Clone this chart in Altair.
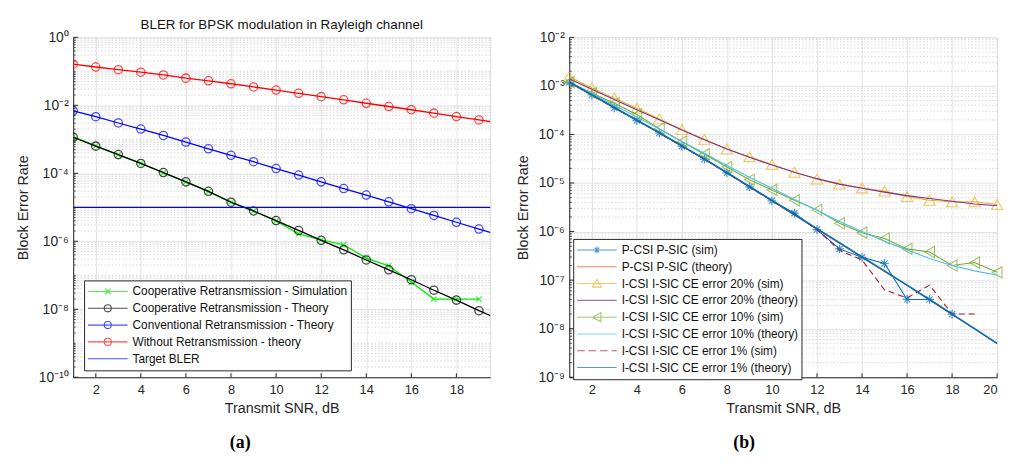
import altair as alt
import pandas as pd

# ---------------- Panel (a) data ----------------
snr_a = list(range(1, 21))
no_retx_theory = [0.162, 0.134, 0.112, 0.0942, 0.0785, 0.0631, 0.0525, 0.0431, 0.0347, 0.0282,
                  0.0225, 0.0180, 0.0145, 0.0115, 0.00923, 0.00741, 0.00589, 0.00468, 0.00372, 0.00295]
conv_retx_theory = [6.92e-3, 4.62e-3, 3.02e-3, 2.0e-3, 1.30e-3, 8.3e-4, 5.25e-4, 3.39e-4, 2.19e-4, 1.38e-4,
                    8.9e-5, 5.6e-5, 3.55e-5, 2.29e-5, 1.45e-5, 9.1e-6, 5.75e-6, 3.63e-6, 2.29e-6, 1.45e-6]
coop_retx_theory = [1.15e-3, 6.3e-4, 3.55e-4, 1.95e-4, 1.05e-4, 5.6e-5, 2.95e-5, 1.41e-5, 7.8e-6, 4.07e-6,
                    2.09e-6, 1.07e-6, 5.6e-7, 2.82e-7, 1.45e-7, 7.4e-8, 3.63e-8, 1.86e-8, 9.1e-9, 4.7e-9]
snr_a_sim = list(range(1, 20))
coop_retx_sim = [1.2e-3, 6.4e-4, 3.5e-4, 1.95e-4, 1.04e-4, 5.6e-5, 2.9e-5, 1.42e-5, 7.7e-6, 4.0e-6,
                 1.66e-6, 1.1e-6, 7.9e-7, 3.2e-7, 1.9e-7, 6.3e-8, 2.0e-8, 2.0e-8, 2.0e-8]
target_bler = [1e-5]

names_a = ["Cooperative Retransmission - Simulation", "Cooperative Retransmission - Theory",
           "Conventional Retransmission - Theory", "Without Retransmission - theory", "Target BLER"]
colors_a = ["#00ee00", "#000000", "#0000ff", "#ff0000", "#0000ff"]

# ---------------- Panel (b) data ----------------
snr_b = list(range(1, 21))
snr_b_pcsi_sim = list(range(1, 19))
pcsi_sim = [1.17e-3, 6.5e-4, 3.55e-4, 1.95e-4, 1.07e-4, 5.75e-5, 3.1e-5, 1.62e-5, 8.3e-6, 4.3e-6,
            2.4e-6, 1.1e-6, 4.4e-7, 2.95e-7, 2.2e-7, 4e-8, 4e-8, 2e-8]
pcsi_theory = [1.17e-3, 6.5e-4, 3.55e-4, 1.95e-4, 1.07e-4, 5.75e-5, 3.1e-5, 1.62e-5, 8.3e-6, 4.3e-6,
               2.2e-6, 1.12e-6, 5.75e-7, 2.95e-7, 1.51e-7, 7.8e-8, 3.9e-8, 1.95e-8, 9.8e-9, 4.9e-9]
ce20_sim = [1.55e-3, 9.1e-4, 5.6e-4, 3.47e-4, 2.09e-4, 1.26e-4, 7.9e-5, 5.0e-5, 3.47e-5, 2.4e-5,
            1.66e-5, 1.2e-5, 9.5e-6, 7.9e-6, 6.8e-6, 5.25e-6, 4.4e-6, 4.1e-6, 4.1e-6, 3.6e-6]
ce20_theory = [1.41e-3, 8.5e-4, 5.25e-4, 3.24e-4, 2.0e-4, 1.23e-4, 7.8e-5, 5.0e-5, 3.4e-5, 2.34e-5,
               1.66e-5, 1.23e-5, 9.5e-6, 7.8e-6, 6.5e-6, 5.5e-6, 4.8e-6, 4.2e-6, 3.7e-6, 3.4e-6]
ce10_sim = [1.2e-3, 7.1e-4, 4.4e-4, 2.57e-4, 1.32e-4, 7.1e-5, 3.9e-5, 2.14e-5, 1.17e-5, 7.2e-6,
            4.4e-6, 2.8e-6, 1.48e-6, 9.5e-7, 7.2e-7, 4.4e-7, 3.8e-7, 2.0e-7, 2.3e-7, 1.45e-7]
ce10_theory = [1.2e-3, 6.9e-4, 4.0e-4, 2.3e-4, 1.29e-4, 7.2e-5, 4.1e-5, 2.3e-5, 1.32e-5, 7.8e-6,
               4.6e-6, 2.75e-6, 1.62e-6, 1.0e-6, 6.3e-7, 4.2e-7, 2.8e-7, 2.0e-7, 1.55e-7, 1.26e-7]
snr_b_ce1_sim = list(range(1, 20))
ce1_sim = [1.2e-3, 6.5e-4, 3.5e-4, 1.95e-4, 1.07e-4, 5.7e-5, 3.1e-5, 1.6e-5, 8.3e-6, 4.3e-6,
           2.3e-6, 1.1e-6, 4.1e-7, 2.6e-7, 6.3e-8, 4.3e-8, 7.9e-8, 2.0e-8, 2.0e-8]
ce1_theory = [1.2e-3, 6.6e-4, 3.6e-4, 1.98e-4, 1.09e-4, 5.85e-5, 3.15e-5, 1.65e-5, 8.5e-6, 4.4e-6,
              2.25e-6, 1.15e-6, 5.9e-7, 3.0e-7, 1.55e-7, 7.9e-8, 4.0e-8, 2.0e-8, 1.0e-8, 5.0e-9]

names_b = ["P-CSI P-SIC (sim)", "P-CSI P-SIC (theory)", "I-CSI I-SIC CE error 20% (sim)",
           "I-CSI I-SIC CE error 20% (theory)", "I-CSI I-SIC CE error 10% (sim)",
           "I-CSI I-SIC CE error 10% (theory)", "I-CSI I-SIC CE error 1% (sim)",
           "I-CSI I-SIC CE error 1% (theory)"]
colors_b = ["#0072BD", "#D95319", "#EDB120", "#7E2F8E", "#77AC30", "#4DBEEE", "#A2142F", "#0072BD"]

x_ticks_a = [2, 4, 6, 8, 10, 12, 14, 16, 18]
x_ticks_b = [2, 4, 6, 8, 10, 12, 14, 16, 18, 20]
y_ticks_a = [1e-10, 1e-8, 1e-6, 1e-4, 1e-2, 1e0]
y_ticks_b = [1e-9, 1e-8, 1e-7, 1e-6, 1e-5, 1e-4, 1e-3, 1e-2]

# ---------------- tables ----------------
def series(name, xs, ys):
    return pd.DataFrame({"snr": xs, "bler": ys, "series": name})

df_a = pd.concat([
    series(names_a[0], snr_a_sim, coop_retx_sim),
    series(names_a[1], snr_a, coop_retx_theory),
    series(names_a[2], snr_a, conv_retx_theory),
    series(names_a[3], snr_a, no_retx_theory),
])
df_b = pd.concat([
    series(names_b[0], snr_b_pcsi_sim, pcsi_sim),
    series(names_b[1], snr_b, pcsi_theory),
    series(names_b[2], snr_b, ce20_sim),
    series(names_b[3], snr_b, ce20_theory),
    series(names_b[4], snr_b, ce10_sim),
    series(names_b[5], snr_b, ce10_theory),
    series(names_b[6], snr_b_ce1_sim, ce1_sim),
    series(names_b[7], snr_b, ce1_theory),
])

SUP = {"0": "\u2070", "1": "\u00b9", "2": "\u00b2", "3": "\u00b3", "4": "\u2074", "5": "\u2075",
       "6": "\u2076", "7": "\u2077", "8": "\u2078", "9": "\u2079", "-": "\u207b"}


def sup_label_expr(exps):
    expr = "''"
    for e in exps:
        lab = "10" + "".join(SUP[c] for c in str(e))
        expr = f"round(log(datum.value)/LN10) == {e} ? '{lab}' : ({expr})"
    return expr


FONT = "Liberation Sans"
AX = "#262626"
GRID = "#e3e3e3"
MINOR = "#d6d6d6"

# legend symbol paths (line + marker)
P_LINE = "M-1,0L1,0"
P_CIRCLE = "M-1,0L1,0M-0.18,0A0.18,0.18 0 1,0 0.18,0A0.18,0.18 0 1,0 -0.18,0"
P_X = "M-1,0L1,0M-0.14,-0.14L0.14,0.14M-0.14,0.14L0.14,-0.14"
P_TRI_UP = "M-1,0L1,0M0,-0.22L0.23,0.18L-0.23,0.18Z"
P_TRI_LEFT = "M-1,0L1,0M-0.22,0L0.2,-0.23L0.2,0.23Z"
P_STAR = "M-1,0L1,0M0,-0.17L0,0.17M-0.12,-0.12L0.12,0.12M-0.12,0.12L0.12,-0.12"
P_DASH = "M-1,0L-0.62,0M-0.42,0L-0.04,0M0.16,0L0.54,0M0.74,0L1,0"

STAR = "M-1,0L1,0M0,-1L0,1M-0.7,-0.7L0.7,0.7M-0.7,0.7L0.7,-0.7"
XMARK = "M-1,-1L1,1M-1,1L1,-1"


def legend(xy):
    return alt.Legend(title=None, orient="none", legendX=xy[0], legendY=xy[1], symbolSize=1600,
                      clipHeight=16.4, rowPadding=0, padding=3, labelFont=FONT, labelFontSize=12,
                      labelColor="#111", labelOffset=4, strokeColor=AX, fillColor="white",
                      symbolStrokeWidth=1.1, labelLimit=400, symbolFillColor="transparent")


def panel(df, names, colors, shapes, W, H, xdom, xticks, ydom, yticks, exps, minor_vals,
          legend_xy, layers_fn, title=None, caption=None, cap_x=0):
    x = alt.X("snr:Q", scale=alt.Scale(domain=xdom, nice=False, zero=False),
              axis=alt.Axis(values=xticks, title="Transmit SNR, dB", grid=True, ticks=False,
                            labelFontSize=13, titleFontSize=14.5, labelPadding=6, titlePadding=6,
                            labelFont=FONT, titleFont=FONT, labelColor=AX, titleColor=AX,
                            domainColor=AX, gridColor=GRID, titleFontWeight="normal"))
    y = alt.Y("bler:Q", scale=alt.Scale(type="log", domain=ydom, nice=False),
              axis=alt.Axis(values=yticks, title="Block Error Rate", grid=True, ticks=False,
                            labelExpr=sup_label_expr(exps), labelFontSize=14, titleFontSize=14.5,
                            labelPadding=5, titlePadding=8, labelFont=FONT, titleFont=FONT,
                            labelColor=AX, titleColor=AX, domainColor=AX, gridColor=GRID,
                            titleFontWeight="normal"))
    base = alt.Chart(df)

    minor_df = pd.DataFrame({"bler": minor_vals})
    minor = alt.Chart(minor_df).mark_rule(color=MINOR, strokeDash=[1.5, 2], strokeWidth=1).encode(
        y=alt.Y("bler:Q"))
    xt_df = pd.DataFrame({"snr": xticks})
    xtick = alt.Chart(xt_df).mark_rule(color=AX, strokeWidth=1).encode(
        x=alt.X("snr:Q"), y=alt.value(H), y2=alt.value(H - 4))
    yt_df = pd.DataFrame({"bler": yticks})
    ytick = alt.Chart(yt_df).mark_rule(color=AX, strokeWidth=1).encode(
        y=alt.Y("bler:Q"), x=alt.value(0), x2=alt.value(5))
    ymt = alt.Chart(minor_df).mark_rule(color=AX, strokeWidth=0.8).encode(
        y=alt.Y("bler:Q"), x=alt.value(0), x2=alt.value(2.5))

    leg = base.mark_point(filled=False, strokeWidth=1.1).encode(
        color=alt.Color("series:N", scale=alt.Scale(domain=names, range=colors), legend=legend(legend_xy)),
        shape=alt.Shape("series:N", scale=alt.Scale(domain=names, range=shapes), legend=legend(legend_xy)),
    ).transform_filter("false")

    layers = [minor, xtick, ytick, ymt] + layers_fn(base, x, y)
    extra = []
    if title:
        tdf = pd.DataFrame({"t": [title]})
        extra.append(alt.Chart(tdf).mark_text(fontSize=13.5, font=FONT, color="#111",
                                              baseline="middle").encode(
            text="t:N", x=alt.value(W / 2), y=alt.value(-12)))
    cdf = pd.DataFrame({"t": [caption]})
    extra.append(alt.Chart(cdf).mark_text(fontSize=18, font="Liberation Serif", fontWeight="bold",
                                          color="#000", baseline="middle").encode(
        text="t:N", x=alt.value(cap_x), y=alt.value(H + 67)))
    return alt.layer(*layers, leg, *extra).properties(width=W, height=H)


def layers_a(base, x, y):
    f = lambda i: alt.datum.series == names_a[i]
    out = []
    out.append(base.transform_filter(f(0)).mark_line(color=colors_a[0], strokeWidth=1.3, clip=True)
               .encode(x=x, y=y))
    out.append(base.transform_filter(f(0)).mark_point(color=colors_a[0], shape=XMARK, size=30,
                                                      strokeWidth=1.3, filled=False, clip=True)
               .encode(x=x, y=y))
    for i in (1, 2, 3):
        out.append(base.transform_filter(f(i)).mark_line(color=colors_a[i], strokeWidth=1.3, clip=True)
                   .encode(x=x, y=y))
        out.append(base.transform_filter(f(i)).mark_point(color=colors_a[i], shape="circle", size=70,
                                                          strokeWidth=1.3, filled=False, clip=True)
                   .encode(x=x, y=y))
    tdf = pd.DataFrame({"bler": target_bler})
    out.append(alt.Chart(tdf).mark_rule(color=colors_a[4], strokeWidth=1.3).encode(y=y))
    return out


def layers_b(base, x, y):
    f = lambda i: alt.datum.series == names_b[i]
    out = []
    out.append(base.transform_filter(f(0)).mark_line(color=colors_b[0], strokeWidth=1.1).encode(x=x, y=y))
    out.append(base.transform_filter(f(0)).mark_point(color=colors_b[0], shape=STAR, size=80,
                                                      strokeWidth=1.2, filled=False).encode(x=x, y=y))
    out.append(base.transform_filter(f(1)).mark_line(color=colors_b[1], strokeWidth=1.1).encode(x=x, y=y))
    out.append(base.transform_filter(f(2)).mark_line(color=colors_b[2], strokeWidth=1.1).encode(x=x, y=y))
    out.append(base.transform_filter(f(2)).mark_point(color=colors_b[2], shape="triangle-up", size=130,
                                                      strokeWidth=1.1, filled=False).encode(x=x, y=y))
    out.append(base.transform_filter(f(3)).mark_line(color=colors_b[3], strokeWidth=1.1).encode(x=x, y=y))
    out.append(base.transform_filter(f(4)).mark_line(color=colors_b[4], strokeWidth=1.1).encode(x=x, y=y))
    out.append(base.transform_filter(f(4)).mark_point(color=colors_b[4], shape="triangle-left", size=130,
                                                      strokeWidth=1.1, filled=False).encode(x=x, y=y))
    out.append(base.transform_filter(f(5)).mark_line(color=colors_b[5], strokeWidth=1.1).encode(x=x, y=y))
    out.append(base.transform_filter(f(6)).mark_line(color=colors_b[6], strokeWidth=1.1,
                                                     strokeDash=[6, 4]).encode(x=x, y=y))
    out.append(base.transform_filter(f(7)).mark_line(color=colors_b[7], strokeWidth=1.6).encode(x=x, y=y))
    return out


minor_a = [k * 10.0 ** n for n in range(-10, 0) for k in range(1, 10)
           if not (k == 1 and n % 2 == 0)]
minor_b = [k * 10.0 ** n for n in range(-9, -2) for k in range(2, 10)]

shapes_a = [P_X, P_CIRCLE, P_CIRCLE, P_CIRCLE, P_LINE]
shapes_b = [P_STAR, P_LINE, P_TRI_UP, P_LINE, P_TRI_LEFT, P_LINE, P_DASH, P_LINE]

left = panel(df_a, names_a, colors_a, shapes_a, 422, 344, [1, 19.5], x_ticks_a, [1e-10, 1],
             y_ticks_a, [-10, -8, -6, -4, -2, 0], minor_a, (11, 246), layers_a,
             title="BLER for BPSK modulation in Rayleigh channel", caption="(a)", cap_x=169)
right = panel(df_b, names_b, colors_b, shapes_b, 433, 344, [1, 20], x_ticks_b, [1e-9, 1e-2],
              y_ticks_b, [-9, -8, -7, -6, -5, -4, -3, -2], minor_b, (4, 204), layers_b,
              caption="(b)", cap_x=177)

chart = alt.hconcat(left, right, spacing=22).resolve_scale(
    color="independent", shape="independent"
).resolve_legend(color="independent", shape="independent").properties(
    padding={"left": 7, "top": 7, "right": 2, "bottom": 0}
).configure_view(stroke="#e3e3e3").configure(background="white")

chart.save("out.html", embed_options={"renderer": "svg", "actions": False})
